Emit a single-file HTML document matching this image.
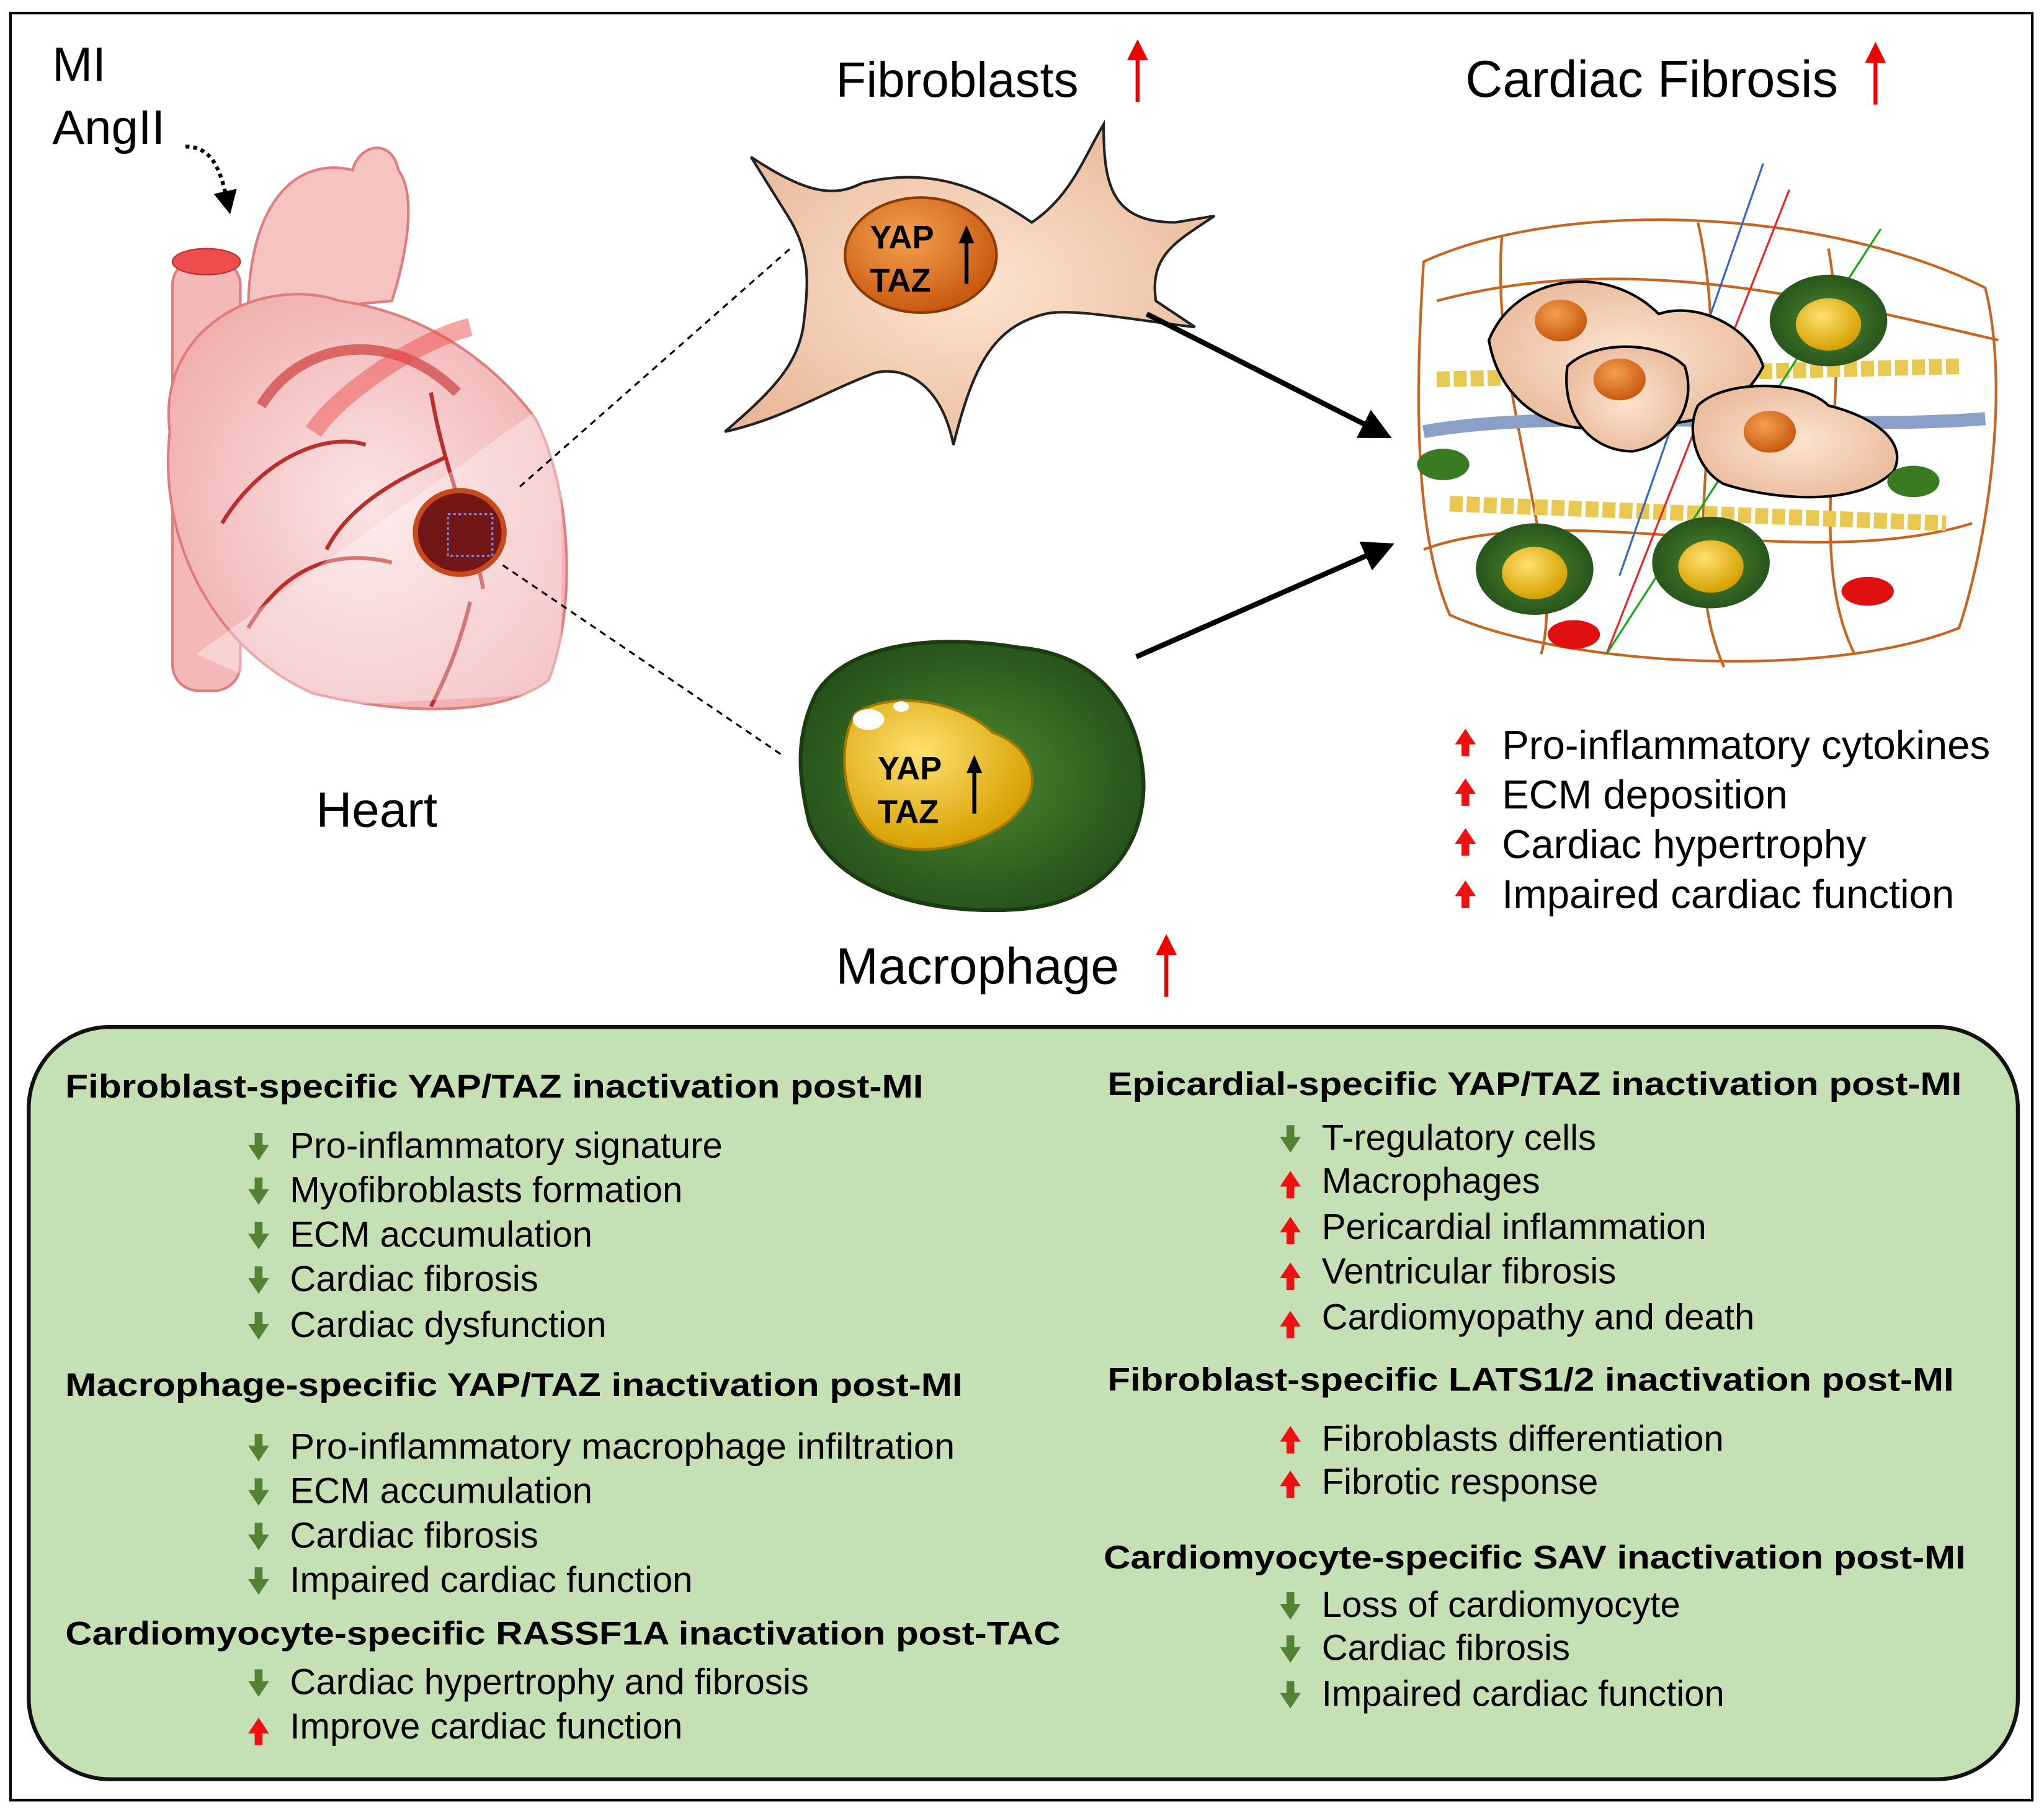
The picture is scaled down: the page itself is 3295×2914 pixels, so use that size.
<!DOCTYPE html>
<html><head><meta charset="utf-8"><style>
html,body{margin:0;padding:0;background:#fff}
svg{display:block}
text{font-family:"Liberation Sans",Arial,sans-serif;fill:#000}
.it{font-size:27.6px}
.hd{font-size:25px;font-weight:bold}
.big{font-size:38px}
</style></head><body>
<svg width="3295" height="2914" viewBox="0 0 1565 1382" preserveAspectRatio="none" xmlns="http://www.w3.org/2000/svg">
<defs>
<g id="dn"><path d="M-3,-11 h6 v9 h5 l-8,12 l-8,-12 h5 z" fill="#548235"/></g>
<g id="up"><path d="M-3,11 h6 v-9 h5 l-8,-12 l-8,12 h5 z" fill="#ee1111"/></g>
<marker id="ah" markerWidth="6" markerHeight="6" refX="5" refY="3" orient="auto" markerUnits="strokeWidth"><path d="M0,0 L6,3 L0,6 z" fill="#000"/></marker>
<marker id="ah2" markerWidth="6" markerHeight="6" refX="4" refY="3" orient="auto" markerUnits="strokeWidth"><path d="M0,0 L6,3 L0,6 z" fill="#000"/></marker>
<radialGradient id="pk" cx="50%" cy="50%" r="60%"><stop offset="0" stop-color="#fbe3e3"/><stop offset="1" stop-color="#f0a8a8"/></radialGradient>
<radialGradient id="grn" cx="50%" cy="50%" r="55%"><stop offset="0" stop-color="#4f8a2e"/><stop offset="1" stop-color="#24501a"/></radialGradient>
<radialGradient id="yel" cx="40%" cy="35%" r="65%"><stop offset="0" stop-color="#ffe070"/><stop offset="1" stop-color="#d6a000"/></radialGradient>
<radialGradient id="org" cx="40%" cy="35%" r="65%"><stop offset="0" stop-color="#f5a050"/><stop offset="1" stop-color="#c85a10"/></radialGradient>
<radialGradient id="tan" cx="50%" cy="50%" r="60%"><stop offset="0" stop-color="#fde4d0"/><stop offset="1" stop-color="#e8b898"/></radialGradient>
</defs>
<rect x="8" y="10" width="1548" height="1366" fill="#fff" stroke="#000" stroke-width="2"/>

<text x="40" y="62" font-size="37">MI</text>
<text x="40" y="110" font-size="37">AngII</text>
<path d="M142,112 C165,112 170,135 175,158" fill="none" stroke="#000" stroke-width="3" stroke-dasharray="3,3" marker-end="url(#ah2)"/>
<text x="640" y="74" class="big">Fibroblasts</text>
<path d="M871,78 V38" stroke="#e00" stroke-width="3"/><path d="M863,46 L871,30 L879,46 z" fill="#e00"/>
<text x="1122" y="74" font-size="39.5">Cardiac Fibrosis</text>
<path d="M1436,80 V40" stroke="#e00" stroke-width="3"/><path d="M1428,48 L1436,32 L1444,48 z" fill="#e00"/>
<text x="242" y="632" class="big">Heart</text>
<text x="640" y="752" font-size="39">Macrophage</text>
<path d="M893,762 V722" stroke="#e00" stroke-width="3"/><path d="M885,730 L893,714 L901,730 z" fill="#e00"/>

<g opacity="0.95">
<rect x="132" y="198" width="52" height="330" rx="20" fill="#f4b5b5" stroke="#d77" stroke-width="2"/>
<ellipse cx="158" cy="200" rx="26" ry="10" fill="#e44" stroke="#b22"/>
<path d="M190,240 C190,150 230,120 270,130 C275,110 300,105 305,130 C320,150 310,200 300,230 Z" fill="#f6c0c0" stroke="#d77" stroke-width="2"/>
<path d="M130,330 C120,250 200,210 260,230 C330,240 380,280 410,320 C440,380 440,470 420,520 C380,550 300,545 240,530 C170,500 120,420 130,330 Z" fill="url(#pk)" stroke="#d77" stroke-width="2"/>
<path d="M200,310 C230,260 300,250 350,300" fill="none" stroke="#c33" stroke-width="8" opacity="0.7"/>
<path d="M240,330 C260,300 320,260 360,250" fill="none" stroke="#e44" stroke-width="14" opacity="0.5"/>
<path d="M170,400 C200,350 250,330 280,340 M250,420 C270,380 320,360 340,350 M190,480 C220,430 260,420 300,430 M330,300 C340,360 360,400 370,450 M360,460 C350,500 340,520 330,540" fill="none" stroke="#b22" stroke-width="3"/>
<path d="M150,500 L430,300 L430,530 L240,540 Z" fill="#fff" opacity="0.35"/>
<ellipse cx="352" cy="407" rx="34" ry="32" fill="#6b0a0a" stroke="#c84010" stroke-width="4"/>
<rect x="343" y="393" width="34" height="32" fill="none" stroke="#68f" stroke-width="1.5" stroke-dasharray="2,2"/>
</g>
<line x1="398" y1="372" x2="605" y2="190" stroke="#000" stroke-width="1.5" stroke-dasharray="5,4"/>
<line x1="385" y1="432" x2="600" y2="578" stroke="#000" stroke-width="1.5" stroke-dasharray="5,4"/>

<path d="M575,120 C620,150 640,150 660,140 C720,125 760,150 790,170 C820,150 830,120 845,95 C845,140 850,170 900,170 L930,165 C900,185 880,195 885,230 L915,250 C870,245 820,235 800,240 C760,250 745,280 730,340 C720,290 690,280 670,285 C630,300 600,320 555,330 C590,300 610,280 615,250 C620,210 620,190 600,160 Z" fill="url(#tan)" stroke="#222" stroke-width="2"/>
<ellipse cx="705" cy="195" rx="58" ry="44" fill="url(#org)" stroke="#8a3a00" stroke-width="2"/>
<text x="666" y="190" font-size="25" font-weight="bold">YAP</text>
<text x="666" y="223" font-size="25" font-weight="bold">TAZ</text>
<path d="M740,217 V180" stroke="#000" stroke-width="3"/><path d="M734,186 L740,172 L746,186 z" fill="#000"/>

<path d="M625,530 C650,490 720,485 780,495 C840,500 870,540 875,590 C880,640 850,690 780,695 C710,700 640,680 620,630 C610,590 610,560 625,530 Z" fill="url(#grn)" stroke="#1c3c10" stroke-width="3"/>
<path d="M655,545 C690,525 740,540 760,560 C790,570 800,600 780,620 C760,645 700,660 670,640 C645,620 640,570 655,545 Z" fill="url(#yel)" stroke="#a07800" stroke-width="2"/>
<ellipse cx="665" cy="550" rx="12" ry="8" fill="#fff"/><ellipse cx="690" cy="540" rx="6" ry="4" fill="#fff"/>
<text x="672" y="596" font-size="25" font-weight="bold">YAP</text>
<text x="672" y="629" font-size="25" font-weight="bold">TAZ</text>
<path d="M746,622 V585" stroke="#000" stroke-width="3"/><path d="M740,591 L746,577 L752,591 z" fill="#000"/>

<line x1="878" y1="240" x2="1062" y2="333" stroke="#000" stroke-width="4" marker-end="url(#ah)"/>
<line x1="870" y1="502" x2="1064" y2="417" stroke="#000" stroke-width="4" marker-end="url(#ah)"/>

<g>
<path d="M1090,200 C1200,150 1400,160 1520,220 C1540,300 1520,420 1500,480 C1400,520 1200,510 1110,470 C1080,400 1085,280 1090,200 Z" fill="none" stroke="#c8641e" stroke-width="2"/>
<path d="M1100,230 C1250,190 1400,230 1530,260 M1090,420 C1200,380 1380,440 1510,400 M1150,180 C1140,300 1200,430 1180,500 M1400,190 C1420,300 1380,420 1420,500 M1300,170 C1330,300 1280,420 1320,510" fill="none" stroke="#c8641e" stroke-width="2"/>
<path d="M1090,330 C1200,310 1400,330 1520,320" fill="none" stroke="#8aa0c8" stroke-width="10"/>
<path d="M1100,290 L1500,280 M1110,385 L1490,400" stroke="#e8c850" stroke-width="12" stroke-dasharray="10,3"/>
<line x1="1350" y1="125" x2="1240" y2="440" stroke="#36c" stroke-width="1.5"/>
<line x1="1370" y1="145" x2="1230" y2="500" stroke="#e22" stroke-width="1.5"/>
<line x1="1440" y1="175" x2="1230" y2="500" stroke="#1a1" stroke-width="1.5"/>
<path d="M1140,260 C1160,210 1230,200 1270,240 C1300,230 1340,250 1350,280 C1330,320 1280,330 1250,320 C1210,340 1150,320 1140,260 Z" fill="url(#tan)" stroke="#000" stroke-width="2"/>
<path d="M1300,310 C1320,290 1380,290 1400,310 C1440,320 1460,340 1450,360 C1420,390 1350,380 1320,370 C1300,360 1290,330 1300,310 Z" fill="url(#tan)" stroke="#000" stroke-width="2"/>
<path d="M1200,280 C1220,260 1270,260 1290,280 C1300,310 1280,340 1250,345 C1220,345 1195,320 1200,280 Z" fill="url(#tan)" stroke="#000" stroke-width="2"/>
<ellipse cx="1195" cy="245" rx="20" ry="16" fill="url(#org)"/>
<ellipse cx="1240" cy="290" rx="20" ry="16" fill="url(#org)"/>
<ellipse cx="1355" cy="330" rx="20" ry="16" fill="url(#org)"/>
<ellipse cx="1400" cy="245" rx="45" ry="35" fill="url(#grn)"/><ellipse cx="1400" cy="248" rx="25" ry="20" fill="url(#yel)"/>
<ellipse cx="1175" cy="435" rx="45" ry="35" fill="url(#grn)"/><ellipse cx="1175" cy="438" rx="25" ry="20" fill="url(#yel)"/>
<ellipse cx="1310" cy="430" rx="45" ry="35" fill="url(#grn)"/><ellipse cx="1310" cy="433" rx="25" ry="20" fill="url(#yel)"/>
<ellipse cx="1105" cy="355" rx="20" ry="12" fill="#3a7a20"/>
<ellipse cx="1465" cy="368" rx="20" ry="12" fill="#3a7a20"/>
<ellipse cx="1430" cy="452" rx="20" ry="11" fill="#e01010"/>
<ellipse cx="1205" cy="485" rx="20" ry="11" fill="#e01010"/>
</g>

<use href="#up" x="1122" y="567"/><text x="1150" y="580" font-size="31">Pro-inflammatory cytokines</text>
<use href="#up" x="1122" y="605"/><text x="1150" y="618" font-size="31">ECM deposition</text>
<use href="#up" x="1122" y="643"/><text x="1150" y="656" font-size="31">Cardiac hypertrophy</text>
<use href="#up" x="1122" y="683"/><text x="1150" y="694" font-size="31">Impaired cardiac function</text>

<rect x="22" y="785" width="1523" height="575" rx="62" fill="#c5e0b4" stroke="#111" stroke-width="3"/>
<text x="50" y="839" class="hd" textLength="657" lengthAdjust="spacingAndGlyphs">Fibroblast-specific YAP/TAZ inactivation post-MI</text>
<use href="#dn" x="198" y="877"/><text x="222" y="885" class="it">Pro-inflammatory signature</text>
<use href="#dn" x="198" y="911"/><text x="222" y="919" class="it">Myofibroblasts formation</text>
<use href="#dn" x="198" y="945"/><text x="222" y="953" class="it">ECM accumulation</text>
<use href="#dn" x="198" y="979"/><text x="222" y="987" class="it">Cardiac fibrosis</text>
<use href="#dn" x="198" y="1014"/><text x="222" y="1022" class="it">Cardiac dysfunction</text>
<text x="50" y="1067" class="hd" textLength="687" lengthAdjust="spacingAndGlyphs">Macrophage-specific YAP/TAZ inactivation post-MI</text>
<use href="#dn" x="198" y="1107"/><text x="222" y="1115" class="it" textLength="509" lengthAdjust="spacingAndGlyphs">Pro-inflammatory macrophage infiltration</text>
<use href="#dn" x="198" y="1141"/><text x="222" y="1149" class="it">ECM accumulation</text>
<use href="#dn" x="198" y="1175"/><text x="222" y="1183" class="it">Cardiac fibrosis</text>
<use href="#dn" x="198" y="1209"/><text x="222" y="1217" class="it">Impaired cardiac function</text>
<text x="50" y="1257" class="hd" textLength="762" lengthAdjust="spacingAndGlyphs">Cardiomyocyte-specific RASSF1A inactivation post-TAC</text>
<use href="#dn" x="198" y="1287"/><text x="222" y="1295" class="it">Cardiac hypertrophy and fibrosis</text>
<use href="#up" x="198" y="1323"/><text x="222" y="1329" class="it">Improve cardiac function</text>

<text x="848" y="837" class="hd" textLength="654" lengthAdjust="spacingAndGlyphs">Epicardial-specific YAP/TAZ inactivation post-MI</text>
<use href="#dn" x="988" y="871"/><text x="1012" y="879" class="it">T-regulatory cells</text>
<use href="#up" x="988" y="905"/><text x="1012" y="912" class="it">Macrophages</text>
<use href="#up" x="988" y="940"/><text x="1012" y="947" class="it">Pericardial inflammation</text>
<use href="#up" x="988" y="975"/><text x="1012" y="981" class="it">Ventricular fibrosis</text>
<use href="#up" x="988" y="1012"/><text x="1012" y="1016" class="it">Cardiomyopathy and death</text>
<text x="848" y="1063" class="hd" textLength="648" lengthAdjust="spacingAndGlyphs">Fibroblast-specific LATS1/2 inactivation post-MI</text>
<use href="#up" x="988" y="1100"/><text x="1012" y="1109" class="it">Fibroblasts differentiation</text>
<use href="#up" x="988" y="1134"/><text x="1012" y="1142" class="it">Fibrotic response</text>
<text x="845" y="1199" class="hd" textLength="660" lengthAdjust="spacingAndGlyphs">Cardiomyocyte-specific SAV inactivation post-MI</text>
<use href="#dn" x="988" y="1228"/><text x="1012" y="1236" class="it">Loss of cardiomyocyte</text>
<use href="#dn" x="988" y="1261"/><text x="1012" y="1269" class="it">Cardiac fibrosis</text>
<use href="#dn" x="988" y="1296"/><text x="1012" y="1304" class="it">Impaired cardiac function</text>
</svg>
</body></html>
